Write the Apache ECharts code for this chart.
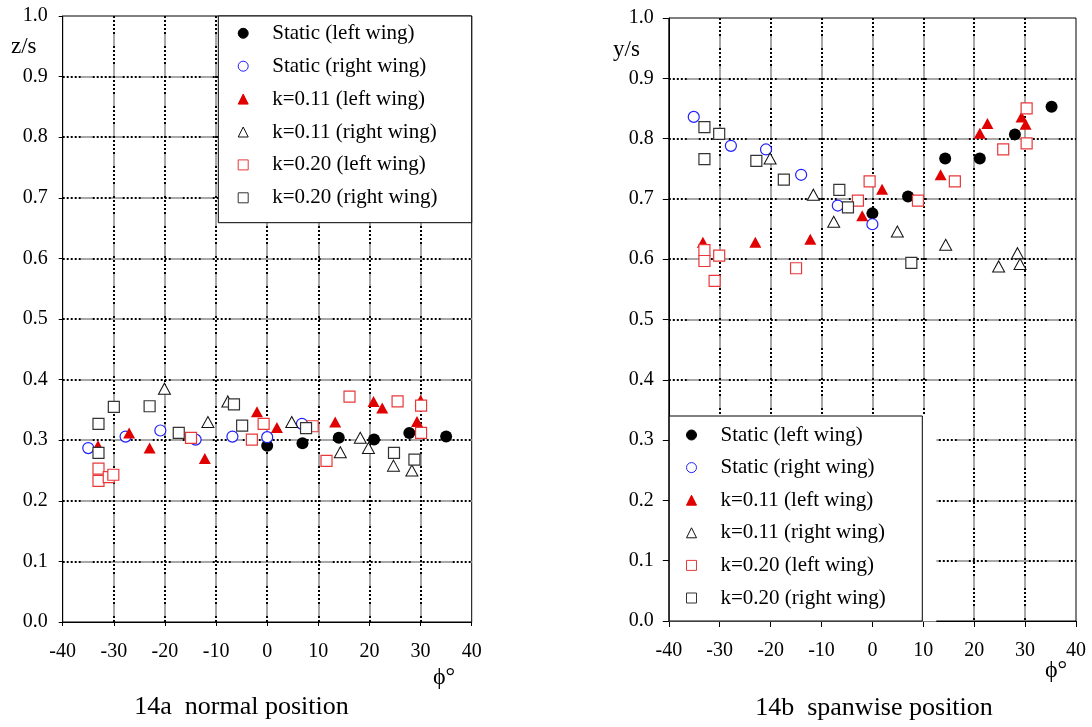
<!DOCTYPE html>
<html>
<head>
<meta charset="utf-8">
<script src="https://cdn.jsdelivr.net/npm/echarts@6/dist/echarts.min.js"></script>
<style>
  html, body { margin: 0; padding: 0; background: #ffffff; }
  #chart { width: 1092px; height: 727px; }
</style>
</head>
<body>
<div id="chart"></div>
<script>
// Axis ranges
const phiTicks = [-40, -30, -20, -10, 0, 10, 20, 30, 40];
const ratioTicks = [0, 0.1, 0.2, 0.3, 0.4, 0.5, 0.6, 0.7, 0.8, 0.9, 1.0];

const seriesNames = [
  'Static (left wing)',
  'Static (right wing)',
  'k=0.11 (left wing)',
  'k=0.11 (right wing)',
  'k=0.20 (left wing)',
  'k=0.20 (right wing)'
];

// 14a normal position: [phi (deg), z/s]
const normalStaticLeft = [[0, 0.291], [6.9, 0.295], [14, 0.304], [20.9, 0.301], [27.8, 0.312], [35, 0.306]];
const normalStaticRight = [[-35, 0.287], [-27.7, 0.306], [-20.9, 0.316], [-14, 0.301], [-6.8, 0.306], [0, 0.305], [6.8, 0.327]];
const normalK11Left = [[-33.1, 0.291], [-27, 0.312], [-23, 0.287], [-12.2, 0.27], [-2, 0.347], [1.9, 0.321], [13.3, 0.33], [20.8, 0.364], [22.5, 0.353], [29.3, 0.331], [30, 0.366]];
const normalK11Right = [[-20.1, 0.385], [-11.6, 0.33], [-7.7, 0.364], [4.8, 0.33], [14.3, 0.28], [18.2, 0.304], [19.8, 0.287], [24.7, 0.258], [28.3, 0.25]];
const normalK20Left = [[-33, 0.253], [-33, 0.233], [-31, 0.239], [-30.1, 0.243], [-14.9, 0.304], [-3, 0.301], [-0.7, 0.327], [8.9, 0.323], [11.6, 0.266], [16.1, 0.372], [25.5, 0.364], [30.1, 0.357], [30.1, 0.312]];
const normalK20Right = [[-33, 0.327], [-33, 0.279], [-30, 0.355], [-23, 0.356], [-17.3, 0.312], [-6.5, 0.359], [-4.9, 0.324], [7.6, 0.32], [24.8, 0.279], [28.8, 0.268]];

// 14b spanwise position: [phi (deg), y/s]
const spanStaticLeft = [[0, 0.676], [7, 0.704], [14.3, 0.767], [21.1, 0.767], [28, 0.807], [35.2, 0.853]];
const spanStaticRight = [[-35.1, 0.836], [-27.8, 0.788], [-20.9, 0.782], [-14, 0.74], [-6.8, 0.689], [0, 0.658]];
const spanK11Left = [[-33.3, 0.628], [-23, 0.628], [-12.2, 0.633], [-2, 0.672], [1.9, 0.716], [13.4, 0.74], [21.1, 0.809], [22.6, 0.825], [29.3, 0.836], [30.1, 0.824]];
const spanK11Right = [[-20.1, 0.767], [-11.6, 0.707], [-7.6, 0.662], [4.9, 0.646], [14.4, 0.624], [24.8, 0.588], [28.5, 0.61], [29, 0.592]];
const spanK20Left = [[-33, 0.615], [-33, 0.597], [-30.1, 0.606], [-31, 0.564], [-15, 0.585], [-2.85, 0.697], [-0.55, 0.729], [8.95, 0.697], [16.2, 0.729], [25.7, 0.782], [30.3, 0.85], [30.3, 0.792]];
const spanK20Right = [[-33, 0.819], [-30.1, 0.808], [-33, 0.766], [-22.8, 0.763], [-17.4, 0.732], [-6.5, 0.715], [-4.8, 0.686], [7.65, 0.594]];

const normalSets = [normalStaticLeft, normalStaticRight, normalK11Left, normalK11Right, normalK20Left, normalK20Right];
const spanSets = [spanStaticLeft, spanStaticRight, spanK11Left, spanK11Right, spanK20Left, spanK20Right];

const FONT = '"Liberation Serif", "Times New Roman", serif';

// Marker look for each series, in the order of seriesNames
const markers = [
  { symbol: 'circle', size: 12, fill: '#000000', stroke: '#000000', lw: 0 },
  { symbol: 'circle', size: 11, fill: '#ffffff', stroke: '#1f1fff', lw: 1.2 },
  { symbol: 'triangle', size: [12, 11], fill: '#e00000', stroke: '#e00000', lw: 0 },
  { symbol: 'triangle', size: [12, 11], fill: '#ffffff', stroke: '#111111', lw: 1 },
  { symbol: 'rect', size: 11, fill: '#ffffff', stroke: '#e8383a', lw: 1.2 },
  { symbol: 'rect', size: 11, fill: '#ffffff', stroke: '#333333', lw: 1.2 }
];
const legendIcons = [
  'circle', 'circle',
  'path://M5,0L10,10L0,10Z', 'path://M5,0L10,10L0,10Z',
  'path://M0,0H10V10H0Z', 'path://M0,0H10V10H0Z'
];

// Grid lines: a grey dashed base with a black dotted pattern laid over it
const greyGrid = { color: '#a8a8a8', width: 2, type: [12, 18], dashOffset: 12 };
const dotGrid = { color: '#000000', width: 2, type: [2, 2, 2, 2, 2, 2, 2, 2, 2, 12], dashOffset: 0 };

function axisPair(dim, gridIndex, tickLen) {
  const isX = dim === 'x';
  const range = isX ? phiTicks : ratioTicks;
  const base = {
    type: 'value',
    gridIndex: gridIndex,
    min: range[0],
    max: range[range.length - 1],
    interval: isX ? 10 : 0.1,
    position: isX ? 'bottom' : 'left'
  };
  const main = Object.assign({}, base, {
    axisLine: { show: true, onZero: false, lineStyle: { color: '#000', width: 1 } },
    axisTick: { show: true, inside: false, length: tickLen, lineStyle: { color: '#000', width: 1 } },
    axisLabel: {
      show: true,
      color: '#000',
      fontFamily: FONT,
      fontSize: 20,
      margin: isX ? 20 : 15,
      formatter: isX ? (v) => String(Math.round(v)) : (v) => v.toFixed(1)
    },
    splitLine: { show: true, showMinLine: false, showMaxLine: false, lineStyle: greyGrid }
  });
  const overlay = Object.assign({}, base, {
    axisLine: { show: false },
    axisTick: { show: false },
    axisLabel: { show: false },
    splitLine: { show: true, showMinLine: false, showMaxLine: false, lineStyle: dotGrid }
  });
  return [main, overlay];
}

const xAxes = [].concat(axisPair('x', 0, 4), axisPair('x', 1, 6));
const yAxes = [].concat(axisPair('y', 0, 4), axisPair('y', 1, 6));

function buildSeries(sets, axisIndex) {
  return sets.map((data, i) => ({
    name: seriesNames[i],
    type: 'scatter',
    xAxisIndex: axisIndex,
    yAxisIndex: axisIndex,
    data: data,
    symbol: markers[i].symbol,
    symbolSize: markers[i].size,
    itemStyle: {
      color: markers[i].fill,
      borderColor: markers[i].stroke,
      borderWidth: markers[i].lw,
      opacity: 1
    },
    emphasis: { disabled: true },
    z: 3 + i
  }));
}

function buildLegend(left, top, gap) {
  return {
    orient: 'vertical',
    left: left,
    top: top,
    padding: 0,
    itemWidth: 48,
    itemHeight: 10,
    itemGap: gap,
    selectedMode: false,
    z: 30,
    itemStyle: { borderWidth: 1 },
    textStyle: { color: '#000', fontFamily: FONT, fontSize: 21, lineHeight: 22 },
    data: seriesNames.map((n, i) => ({ name: n, icon: legendIcons[i] }))
  };
}

function label(text, x, y, size, align) {
  return {
    type: 'text',
    x: x,
    y: y,
    z: 40,
    style: {
      text: text,
      fill: '#000',
      font: size + 'px ' + FONT,
      align: align || 'left',
      verticalAlign: 'middle',
      textAlign: align || 'left',
      textVerticalAlign: 'middle'
    }
  };
}

const chart = echarts.init(document.getElementById('chart'), null, { renderer: 'canvas' });

chart.setOption({
  backgroundColor: '#ffffff',
  animation: false,
  grid: [
    { left: 62.7, top: 16, width: 409, height: 606, show: true, borderColor: '#000', borderWidth: 1, backgroundColor: 'transparent' },
    { left: 668.8, top: 18, width: 407.2, height: 603, show: true, borderColor: '#000', borderWidth: 1, backgroundColor: 'transparent' }
  ],
  xAxis: xAxes,
  yAxis: yAxes,
  legend: [
    buildLegend(237.7, 22.3, 10.9),
    buildLegend(686, 424, 10.6)
  ],
  graphic: [
    // legend frame, 14a
    { type: 'rect', z: 20, shape: { x: 218.3, y: 16, width: 253.4, height: 206.7 },
      style: { fill: '#ffffff', stroke: '#000000', lineWidth: 1 } },
    // white margin beside the legend frame, 14b
    { type: 'rect', z: 19, shape: { x: 669.3, y: 416, width: 267, height: 205.6 },
      style: { fill: '#ffffff', stroke: null } },
    // legend frame, 14b
    { type: 'rect', z: 20, shape: { x: 669.3, y: 416, width: 253, height: 205 },
      style: { fill: '#ffffff', stroke: '#000000', lineWidth: 1 } },
    label('z/s', 11, 47, 23, 'left'),
    label('y/s', 613, 50, 23, 'left'),
    label('\u03D5\u00B0', 444, 678, 24, 'center'),
    label('\u03D5\u00B0', 1056, 671, 24, 'center'),
    label('14a  normal position', 241.5, 707, 26, 'center'),
    label('14b  spanwise position', 874, 708, 26, 'center')
  ],
  series: [].concat(buildSeries(normalSets, 0), buildSeries(spanSets, 2))
});
</script>
</body>
</html>
